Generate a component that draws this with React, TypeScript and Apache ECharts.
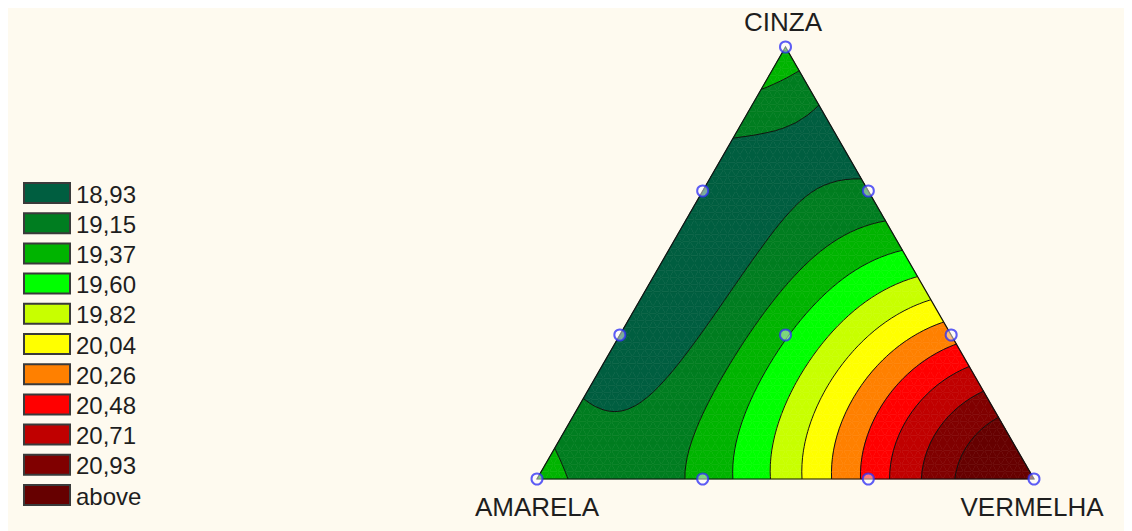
import { useEffect, useRef } from 'react';
import * as echarts from 'echarts';

// Mixture components (ternary vertices)
const componentNames = ['AMARELA', 'CINZA', 'VERMELHA'];

// Simplex-lattice {3,3} design: proportion of each component in every run
const propAmarela = [1, 0, 0, 2 / 3, 1 / 3, 0, 0, 1 / 3, 2 / 3, 1 / 3];
const propCinza = [0, 1, 0, 1 / 3, 2 / 3, 2 / 3, 1 / 3, 0, 0, 1 / 3];
const propVermelha = [0, 0, 1, 0, 0, 1 / 3, 2 / 3, 2 / 3, 1 / 3, 1 / 3];
// Measured response of each run
const response = [19.32, 19.4, 21.3, 18.75, 18.77, 18.98, 20.17, 20.32, 19.22, 19.35];

// Contour levels and the fill colour of each band (last one = above)
const levels = [18.93, 19.15, 19.37, 19.6, 19.82, 20.04, 20.26, 20.48, 20.71, 20.93];
const bandColors = [
  '#005e40', '#007d20', '#00b400', '#00ff00', '#c8ff00', '#ffff00',
  '#ff8000', '#ff0000', '#c00000', '#800000', '#660000',
];

const H = Math.sqrt(3) / 2;
const MESH = 60;
const FONT = 'Liberation Sans, Arial, sans-serif';

// Scheffé full cubic model terms for a blend (a, c, v)
function terms(a: number, c: number, v: number): number[] {
  return [a, c, v, a * c, a * v, c * v, a * c * (a - c), a * v * (a - v), c * v * (c - v), a * c * v];
}

// Least-squares fit of the cubic model to the design runs
function fitModel(): number[] {
  const rows = response.map((_, i) => terms(propAmarela[i], propCinza[i], propVermelha[i]));
  const p = rows[0].length;
  const M: number[][] = [];
  for (let r = 0; r < p; r++) {
    const row: number[] = [];
    for (let s = 0; s < p; s++) {
      let sum = 0;
      for (let k = 0; k < rows.length; k++) sum += rows[k][r] * rows[k][s];
      row.push(sum);
    }
    let rhs = 0;
    for (let k = 0; k < rows.length; k++) rhs += rows[k][r] * response[k];
    row.push(rhs);
    M.push(row);
  }
  for (let col = 0; col < p; col++) {
    let piv = col;
    for (let r = col + 1; r < p; r++) if (Math.abs(M[r][col]) > Math.abs(M[piv][col])) piv = r;
    [M[col], M[piv]] = [M[piv], M[col]];
    for (let r = 0; r < p; r++) {
      if (r === col) continue;
      const f = M[r][col] / M[col][col];
      for (let s = col; s <= p; s++) M[r][s] -= f * M[col][s];
    }
  }
  return M.map((row, i) => row[p] / row[i]);
}

type Pt = { x: number; y: number; f: number };

function clip(poly: Pt[], level: number, keepAbove: boolean): Pt[] {
  const out: Pt[] = [];
  const inside = (p: Pt) => (keepAbove ? p.f >= level : p.f <= level);
  for (let i = 0; i < poly.length; i++) {
    const cur = poly[i];
    const prev = poly[(i + poly.length - 1) % poly.length];
    const ci = inside(cur);
    const pi = inside(prev);
    if (ci !== pi) {
      const t = (level - prev.f) / (cur.f - prev.f);
      out.push({ x: prev.x + t * (cur.x - prev.x), y: prev.y + t * (cur.y - prev.y), f: level });
    }
    if (ci) out.push(cur);
  }
  return out;
}

// Band polygons and contour segments in ternary-plane coordinates
function buildSurface() {
  const beta = fitModel();
  const model = (a: number, c: number, v: number) =>
    terms(a, c, v).reduce((s, t, i) => s + t * beta[i], 0);
  const node = (i: number, j: number): Pt => {
    const v = i / MESH;
    const c = j / MESH;
    const a = Math.max(0, 1 - v - c);
    return { x: v + c / 2, y: c * H, f: model(a, c, v) };
  };
  const grid: Pt[][] = [];
  for (let i = 0; i <= MESH; i++) {
    grid.push([]);
    for (let j = 0; j <= MESH - i; j++) grid[i].push(node(i, j));
  }
  const tris: Pt[][] = [];
  for (let i = 0; i < MESH; i++) {
    for (let j = 0; j < MESH - i; j++) {
      tris.push([grid[i][j], grid[i + 1][j], grid[i][j + 1]]);
      if (j + 1 < MESH - i) tris.push([grid[i + 1][j], grid[i + 1][j + 1], grid[i][j + 1]]);
    }
  }
  const bands: { pts: number[][]; color: string }[] = [];
  const segs: number[][][] = [];
  for (const tri of tris) {
    const fmin = Math.min(tri[0].f, tri[1].f, tri[2].f);
    const fmax = Math.max(tri[0].f, tri[1].f, tri[2].f);
    for (let b = 0; b <= levels.length; b++) {
      const lo = b === 0 ? -Infinity : levels[b - 1];
      const hi = b === levels.length ? Infinity : levels[b];
      if (fmax < lo || fmin > hi) continue;
      let poly: Pt[] = tri;
      if (lo > fmin) poly = clip(poly, lo, true);
      if (hi < fmax) poly = clip(poly, hi, false);
      if (poly.length >= 3) bands.push({ pts: poly.map((p) => [p.x, p.y]), color: bandColors[b] });
    }
    for (const L of levels) {
      if (L <= fmin || L >= fmax) continue;
      const cross: number[][] = [];
      for (let k = 0; k < 3; k++) {
        const p = tri[k];
        const q = tri[(k + 1) % 3];
        if ((p.f < L) !== (q.f < L)) {
          const t = (L - p.f) / (q.f - p.f);
          cross.push([p.x + t * (q.x - p.x), p.y + t * (q.y - p.y)]);
        }
      }
      if (cross.length === 2) segs.push(cross);
    }
  }
  return { bands, segs };
}

export default function App() {
  const ref = useRef<HTMLDivElement>(null);

  useEffect(() => {
    document.body.style.background = '#ffffff';
    const chart = echarts.init(ref.current!, undefined, { renderer: 'svg' });
    const surface = buildSurface();

    const designPoints = response.map((_, i) => [
      propVermelha[i] + propCinza[i] / 2,
      propCinza[i] * H,
    ]);

    const legendLabels = [...levels.map((l) => l.toFixed(2).replace('.', ',')), 'above'];
    const legendItems: any[] = [];
    legendLabels.forEach((label, k) => {
      const top = 175 + k * 30.2;
      legendItems.push({
        type: 'rect',
        shape: { x: 16, y: top, width: 46, height: 20 },
        style: { fill: bandColors[k], stroke: '#3a3a3a', lineWidth: 2 },
      });
      legendItems.push({
        type: 'text',
        x: 68,
        y: top + 11,
        style: { text: label, font: `24px ${FONT}`, fill: '#1e1e1e', align: 'left', verticalAlign: 'middle' },
      });
    });

    const axisLabel = (text: string, x: number, y: number) => ({
      type: 'text', x, y,
      style: { text, font: `26px ${FONT}`, fill: '#1e1e1e', align: 'center', verticalAlign: 'middle' },
    });

    chart.setOption({
      animation: false,
      backgroundColor: '#fefaef',
      grid: { left: 529, top: 39, width: 497, height: 432 },
      xAxis: { type: 'value', min: 0, max: 1, show: false },
      yAxis: { type: 'value', min: 0, max: H, show: false },
      graphic: [
        ...legendItems,
        axisLabel(componentNames[1], 775, 14),
        axisLabel(componentNames[0], 529, 499),
        axisLabel(componentNames[2], 1024, 499),
      ],
      series: [
        {
          type: 'custom',
          coordinateSystem: 'cartesian2d',
          data: [[0, 0]],
          silent: true,
          z: 1,
          renderItem: (_params: any, api: any) => {
            const children: any[] = [];
            for (const band of surface.bands) {
              children.push({
                type: 'polygon',
                shape: { points: band.pts.map((p) => api.coord(p)) },
                style: { fill: band.color, stroke: band.color, lineWidth: 0.6 },
              });
            }
            for (const seg of surface.segs) {
              const p = api.coord(seg[0]);
              const q = api.coord(seg[1]);
              children.push({
                type: 'line',
                shape: { x1: p[0], y1: p[1], x2: q[0], y2: q[1] },
                style: { stroke: '#111', lineWidth: 1 },
              });
            }
            children.push({
              type: 'polygon',
              shape: { points: [api.coord([0, 0]), api.coord([1, 0]), api.coord([0.5, H])] },
              style: { fill: 'none', stroke: '#111', lineWidth: 1.2 },
            });
            return { type: 'group', children };
          },
        },
        {
          type: 'scatter',
          data: designPoints,
          symbol: 'circle',
          symbolSize: 11,
          z: 5,
          silent: true,
          itemStyle: { color: 'rgba(255,255,255,0.6)', borderColor: '#3535f5', borderWidth: 2 },
        },
      ],
    });

    return () => chart.dispose();
  }, []);

  return <div ref={ref} style={{ width: 1124, height: 523 }} />;
}
